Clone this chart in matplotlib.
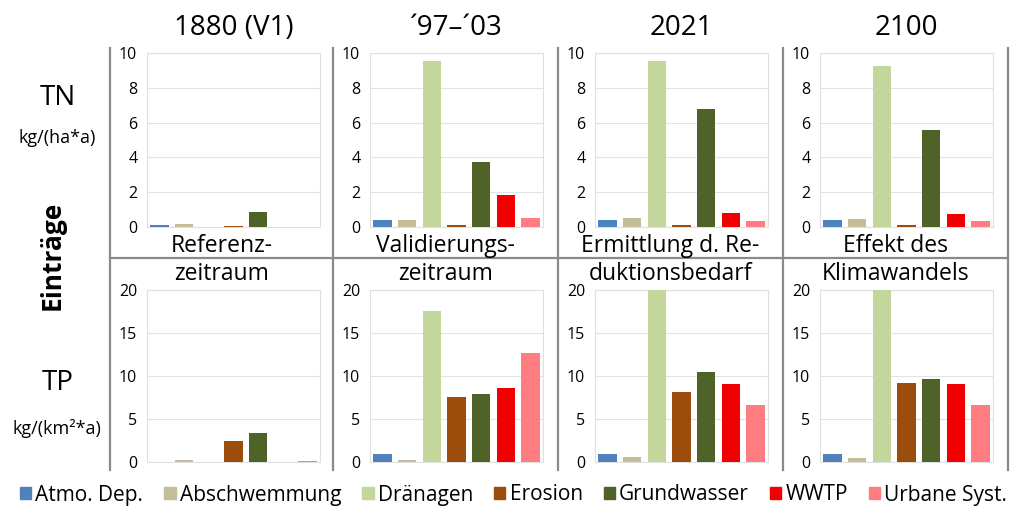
import matplotlib
matplotlib.use("Agg")
import matplotlib.pyplot as plt
import matplotlib.patches as mpatches
from matplotlib.lines import Line2D

plt.rcParams['font.family'] = ['Open Sans', 'DejaVu Sans']

# ── Data ──
sources = ['Atmo. Dep.', 'Abschwemmung', 'Dränagen', 'Erosion',
           'Grundwasser', 'WWTP', 'Urbane Syst.']
colors = ['#4F81BD', '#C4BD97', '#C3D69B', '#9C4D0C',
          '#4F6228', '#F00000', '#FF7C80']

periods = ['1880 (V1)', '´97–´03', '2021', '2100']
period_notes = [('Referenz-', 'zeitraum'),
                ('Validierungs-', 'zeitraum'),
                ('Ermittlung d. Re-', 'duktionsbedarf'),
                ('Effekt des', 'Klimawandels')]

# TN loads, kg/(ha*a)
tn_1880 = [0.10, 0.20, 0.00, 0.03, 0.86, 0.00, 0.02]
tn_9703 = [0.38, 0.38, 9.56, 0.13, 3.71, 1.83, 0.52]
tn_2021 = [0.38, 0.54, 9.56, 0.13, 6.77, 0.81, 0.35]
tn_2100 = [0.38, 0.48, 9.23, 0.13, 5.58, 0.77, 0.35]

# TP loads, kg/(km²*a)
tp_1880 = [0.05, 0.20, 0.00, 2.40, 3.33, 0.00, 0.15]
tp_9703 = [0.90, 0.27, 17.56, 7.54, 7.90, 8.60, 12.65]
tp_2021 = [0.93, 0.54, 21.00, 8.12, 10.44, 9.09, 6.65]
tp_2100 = [0.93, 0.46, 21.00, 9.17, 9.67, 9.09, 6.65]

tn_data = [tn_1880, tn_9703, tn_2021, tn_2100]
tp_data = [tp_1880, tp_9703, tp_2021, tp_2100]

W, H = 1021, 513
fig = plt.figure(figsize=(W / 100, H / 100), dpi=100)


def px_axes(x0, y0, x1, y1):
    """Add axes given pixel box (top-left origin)."""
    return fig.add_axes([x0 / W, 1 - y1 / H, (x1 - x0) / W, (y1 - y0) / H])


def style_axes(ax, vals, ymax, step):
    x = range(len(vals))
    ax.bar(x, vals, width=0.74, color=colors, zorder=3)
    ax.set_xlim(-0.5, len(vals) - 0.5)
    ax.set_ylim(0, ymax)
    ax.set_yticks(range(0, ymax + 1, step))
    ax.set_xticks([])
    ax.grid(axis='y', color='#E3E3E3', lw=0.8, zorder=0)
    for s in ax.spines.values():
        s.set_color('#E0E0E0')
        s.set_linewidth(0.8)
    ax.tick_params(axis='y', length=0, pad=7, labelsize=11.5)


sep_x = [110, 333, 558, 783, 1008]
for i in range(4):
    x0 = sep_x[i] + 37
    x1 = x0 + 173
    ax_tn = px_axes(x0, 53, x1, 227)
    style_axes(ax_tn, tn_data[i], 10, 2)
    ax_tp = px_axes(x0, 290, x1, 462)
    style_axes(ax_tp, tp_data[i], 20, 5)

    xc = (x0 + x1) / 2
    fig.text(xc / W, 1 - 28 / H, periods[i], ha='center', va='center', fontsize=20)
    pc = (sep_x[i] + sep_x[i + 1]) / 2
    fig.text(pc / W, 1 - 246 / H, period_notes[i][0], ha='center', va='center', fontsize=16.5)
    fig.text(pc / W, 1 - 274 / H, period_notes[i][1], ha='center', va='center', fontsize=16.5)

# Frame lines between the panels
for xs in sep_x:
    fig.add_artist(Line2D([xs / W, xs / W], [1 - 48 / H, 1 - 470 / H],
                          color='#8A8A8A', lw=1.6, transform=fig.transFigure))
fig.add_artist(Line2D([sep_x[0] / W, sep_x[-1] / W], [1 - 258 / H, 1 - 258 / H],
                      color='#8A8A8A', lw=1.6, transform=fig.transFigure))

# Row labels
fig.text(58 / W, 1 - 98 / H, 'TN', ha='center', va='center', fontsize=20)
fig.text(57 / W, 1 - 138 / H, 'kg/(ha*a)', ha='center', va='center', fontsize=13)
fig.text(58 / W, 1 - 383 / H, 'TP', ha='center', va='center', fontsize=20)
fig.text(57 / W, 1 - 428 / H, 'kg/(km²*a)', ha='center', va='center', fontsize=13)
fig.text(52 / W, 1 - 255 / H, 'Einträge', ha='center', va='center', fontsize=19,
         fontweight='bold', rotation=90)

handles = [mpatches.Patch(color=c, label=s) for s, c in zip(sources, colors)]
fig.legend(handles=handles, loc='center', bbox_to_anchor=(0.503, 1 - 495 / H),
           ncol=7, frameon=False, fontsize=15, handlelength=0.55, handleheight=0.55,
           handletextpad=0.2, columnspacing=1.0, borderaxespad=0)

fig.savefig('out.png', dpi=100)
